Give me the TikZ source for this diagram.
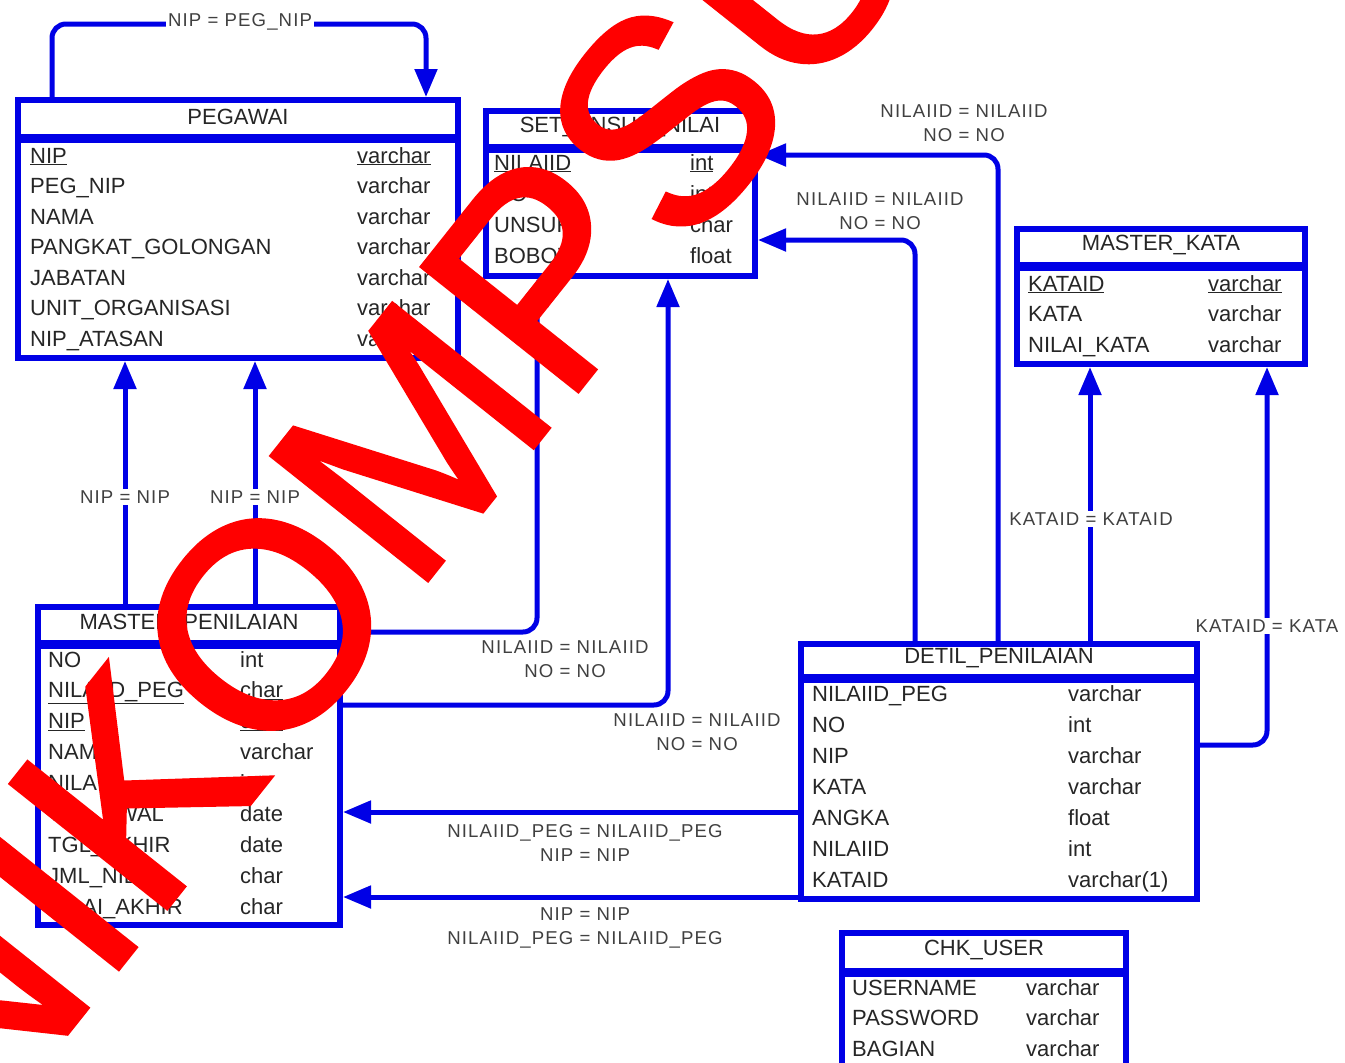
\documentclass[tikz,border=0pt]{standalone}
\usepackage{fontspec}
\setmainfont{Liberation Sans}
\newfontfamily\lblfont[LetterSpace=6]{Liberation Sans}
\newfontfamily\wmfont[FakeBold=1.5]{Liberation Sans}
\usetikzlibrary{arrows.meta}

\definecolor{erblue}{RGB}{0,0,230}
\definecolor{wmred}{RGB}{255,0,0}

\tikzset{
  tbl/.style={draw=erblue, line width=6pt, fill=white, rectangle, inner sep=0pt},
  sepline/.style={draw=erblue, line width=9pt},
  hdr/.style={font=\fontsize{22}{26}\selectfont, text=black!85},
  fld/.style={font=\fontsize{22}{26}\selectfont, text=black!85, anchor=base west, inner sep=0pt},
  rel/.style={draw=erblue, line width=5pt, rounded corners=14pt, -{Triangle[width=22pt,length=28pt]}},
  lbl/.style={font=\lblfont\fontsize{18.6}{24}\selectfont, text=black!75, fill=white, inner sep=2pt, align=center},
}

\begin{document}
\begin{tikzpicture}[x=1pt,y=-1pt]
  \clip (0,0) rectangle (1345,1063);
  \fill[white] (0,0) rectangle (1345,1063);

  % Tables
  \node[tbl, minimum width=440pt, minimum height=258pt] (peg) at (238,229) {};
  \draw[sepline] (peg.west |- 0,138) -- (peg.east |- 0,138);
  \node[hdr] (peg-h) at (238,117) {PEGAWAI};
  \foreach \nm/\ty [count=\i from 0] in {\underline{NIP}/\underline{varchar}, PEG\_NIP/varchar,
      NAMA/varchar, PANGKAT\_GOLONGAN/varchar, JABATAN/varchar, UNIT\_ORGANISASI/varchar,
      NIP\_ATASAN/varchar} {
    \node[fld] (peg-n\i) at (30,163+30.5*\i) {\nm};
    \node[fld] (peg-t\i) at (357,163+30.5*\i) {\ty};
  }

  \node[tbl, minimum width=269pt, minimum height=165pt] (set) at (620.5,193.5) {};
  \draw[sepline] (set.west |- 0,148) -- (set.east |- 0,148);
  \node[hdr] (set-h) at (620,127) {SET\_UNSUR\_NILAI};
  \foreach \nm/\ty [count=\i from 0] in {\underline{NILAIID}/\underline{int}, NO/int,
      UNSUR/char, BOBOT/float} {
    \node[fld] (set-n\i) at (494,170+31.3*\i) {\nm};
    \node[fld] (set-t\i) at (690,170+31.3*\i) {\ty};
  }

  \node[tbl, minimum width=288pt, minimum height=135pt] (kata) at (1161,296.5) {};
  \draw[sepline] (kata.west |- 0,266) -- (kata.east |- 0,266);
  \node[hdr] (kata-h) at (1161,245) {MASTER\_KATA};
  \foreach \nm/\ty [count=\i from 0] in {\underline{KATAID}/\underline{varchar}, KATA/varchar,
      NILAI\_KATA/varchar} {
    \node[fld] (kata-n\i) at (1028,291+30.5*\i) {\nm};
    \node[fld] (kata-t\i) at (1208,291+30.5*\i) {\ty};
  }

  \node[tbl, minimum width=302pt, minimum height=318pt] (mp) at (189,766) {};
  \draw[sepline] (mp.west |- 0,644) -- (mp.east |- 0,644);
  \node[hdr] (mp-h) at (189,624) {MASTER\_PENILAIAN};
  \foreach \nm/\ty [count=\i from 0] in {NO/int, \underline{NILAIID\_PEG}/\underline{char},
      \underline{NIP}/\underline{char}, NAMA/varchar, NILAIID/int, TGL\_AWAL/date,
      TGL\_AKHIR/date, JML\_NILAI/char, NILAI\_AKHIR/char} {
    \node[fld] (mp-n\i) at (48,667+30.9*\i) {\nm};
    \node[fld] (mp-t\i) at (240,667+30.9*\i) {\ty};
  }

  \node[tbl, minimum width=396pt, minimum height=255pt] (det) at (999,771.5) {};
  \draw[sepline] (det.west |- 0,678) -- (det.east |- 0,678);
  \node[hdr] (det-h) at (999,658) {DETIL\_PENILAIAN};
  \foreach \nm/\ty [count=\i from 0] in {NILAIID\_PEG/varchar, NO/int, NIP/varchar,
      KATA/varchar, ANGKA/float, NILAIID/int, KATAID/varchar(1)} {
    \node[fld] (det-n\i) at (812,701+31.1*\i) {\nm};
    \node[fld] (det-t\i) at (1068,701+31.1*\i) {\ty};
  }

  \node[tbl, minimum width=284pt, minimum height=154pt] (chk) at (984,1010) {};
  \draw[sepline] (chk.west |- 0,972) -- (chk.east |- 0,972);
  \node[hdr] (chk-h) at (984,950) {CHK\_USER};
  \foreach \nm/\ty [count=\i from 0] in {USERNAME/varchar, PASSWORD/varchar, BAGIAN/varchar} {
    \node[fld] (chk-n\i) at (852,995+30.5*\i) {\nm};
    \node[fld] (chk-t\i) at (1026,995+30.5*\i) {\ty};
  }

  % References
  \draw[rel] (peg.north -| 52,0) -- ++(0,-73) -| (peg.north -| 426,0);
  \draw[rel] (mp.north -| 125,0) -- (peg.south -| 125,0);
  \draw[rel] (mp.north -| 255,0) -- (peg.south -| 255,0);
  \draw[rel] (mp.east |- 0,632) -| (set.south -| 537,0);
  \draw[rel] (mp.east |- 0,705) -| (set.south -| 668,0);
  \draw[rel] (det.north -| 915,0) |- (set.east |- 0,240);
  \draw[rel] (det.north -| 998,0) |- (set.east |- 0,155);
  \draw[rel] (det.north -| 1090,0) -- (kata.south -| 1090,0);
  \draw[rel] (det.east |- 0,745) -| (kata.south -| 1267,0);
  \draw[rel] (det.west |- 0,812) -- (mp.east |- 0,812);
  \draw[rel] (det.west |- 0,897) -- (mp.east |- 0,897);

  % Labels
  \node[lbl] (l-self) at (240,22) {NIP = PEG\_NIP};
  \node[lbl] (l-nip1) at (125,497) {NIP~= NIP};
  \node[lbl] (l-nip2) at (255,497) {NIP~= NIP};
  \node[lbl] (l-set1) at (565,659) {NILAIID = NILAIID\\NO = NO};
  \node[lbl] (l-set2) at (697,732) {NILAIID = NILAIID\\NO = NO};
  \node[lbl] (l-set3) at (880,211) {NILAIID = NILAIID\\NO = NO};
  \node[lbl] (l-set4) at (964,123) {NILAIID = NILAIID\\NO = NO};
  \node[lbl] (l-kata1) at (1091,519) {KATAID = KATAID};
  \node[lbl] (l-kata2) at (1267,626) {KATAID = KATA};
  \node[lbl] (l-mp1) at (585,843) {NILAIID\_PEG = NILAIID\_PEG\\NIP~= NIP};
  \node[lbl] (l-mp2) at (585,928) {NIP~= NIP\\NILAIID\_PEG = NILAIID\_PEG};

  % Watermark
  \node[rotate=51.5, text=wmred, inner sep=0pt, font=\wmfont\fontsize{290}{290}\selectfont] (wm) at (375,486) {NIKOMPSU};
\end{tikzpicture}
\end{document}
